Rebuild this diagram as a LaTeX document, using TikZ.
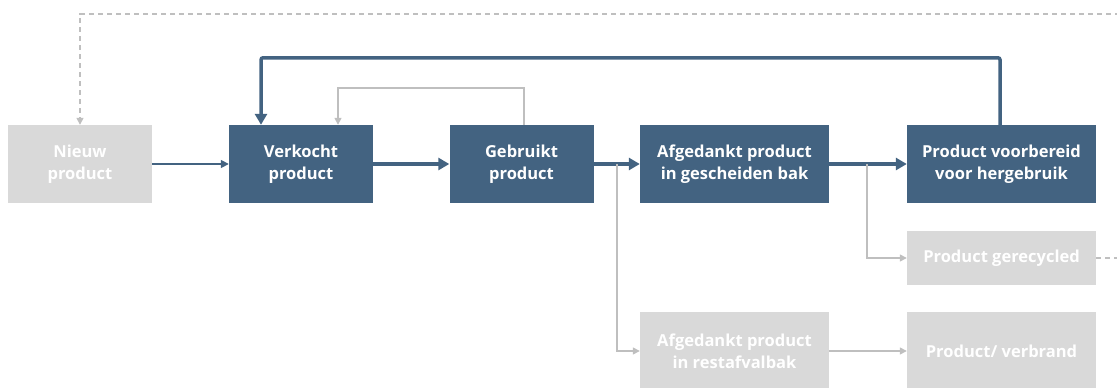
\documentclass[tikz,border=0pt]{standalone}
\usepackage{fontspec}
\setmainfont{Open Sans}
\usetikzlibrary{arrows.meta}
\definecolor{blauw}{HTML}{436381}
\definecolor{lichtgrijs}{HTML}{D9D9D9}
\definecolor{lijngrijs}{HTML}{BFBFBF}
\begin{document}
\begin{tikzpicture}[x=1pt,y=-1pt,
	hoofd/.style={fill=blauw,text=white,font=\bfseries\fontsize{16.5}{22}\selectfont,align=center,inner sep=0pt,minimum height=78pt},
	grijs/.style={hoofd,fill=lichtgrijs},
	dik/.style={draw=blauw,line width=3.5pt,-{Triangle[length=11pt,width=12pt]}},
	dun/.style={draw=blauw,line width=1.6pt,-{Triangle[length=8pt,width=8pt]}},
	grijslijn/.style={draw=lijngrijs,line width=1.4pt,-{Triangle[length=7pt,width=7pt]}},
	stippel/.style={grijslijn,dashed,dash pattern=on 5pt off 4pt}]
	\useasboundingbox (0,0) rectangle (1117,388);
	\node[grijs,minimum width=144pt] (nieuw) at (80,164) {Nieuw\\product};
	\node[hoofd,minimum width=144pt] (verkocht) at (301,164) {Verkocht\\product};
	\node[hoofd,minimum width=144pt] (gebruikt) at (521.5,164) {Gebruikt\\product};
	\node[hoofd,minimum width=189pt] (gescheiden) at (734.5,164) {Afgedankt product\\in gescheiden bak};
	\node[hoofd,minimum width=189pt] (voorbereid) at (1001.5,164) {Product voorbereid\\voor hergebruik};
	\node[grijs,minimum width=189pt,minimum height=54pt] (gerecycled) at (1001.5,258) {Product gerecycled};
	\node[grijs,minimum width=189pt] (restafval) at (734.5,351) {Afgedankt product\\in restafvalbak};
	\node[grijs,minimum width=189pt] (verbrand) at (1001.5,351) {Product/ verbrand};
	\coordinate (splitsA) at (617,164);
	\coordinate (splitsB) at (867,164);
	\draw[dun] (nieuw) -- (verkocht);
	\draw[dik] (verkocht) -- (gebruikt);
	\draw[dik] (gebruikt) -- (gescheiden);
	\draw[dik] (gescheiden) -- (voorbereid);
	\draw[dik,rounded corners=2pt] ([xshift=-1.5pt]voorbereid.north) -- ++(0,-67) -| ([xshift=-40pt]verkocht.north);
	\draw[grijslijn] ([xshift=2.5pt]gebruikt.north) -- ++(0,-37) -| ([xshift=37pt]verkocht.north);
	\draw[grijslijn] (splitsA) |- (restafval.west);
	\draw[grijslijn] (splitsB) |- (gerecycled.west);
	\draw[grijslijn] (restafval) -- (verbrand);
	\draw[stippel] (gerecycled.east) -- (1130,258) -- (1130,14) -| (nieuw.north);
\end{tikzpicture}
\end{document}
